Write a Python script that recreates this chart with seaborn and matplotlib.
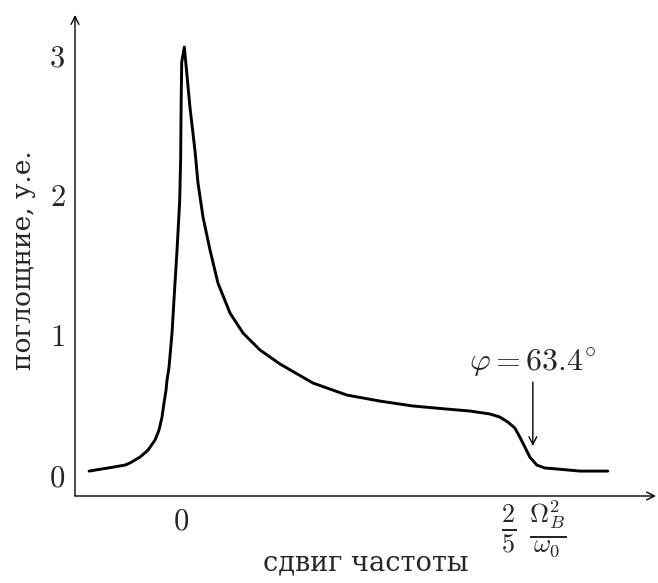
import numpy as np
import pandas as pd
import matplotlib
matplotlib.use("Agg")
import matplotlib.pyplot as plt
import seaborn as sns

# data (x in units of Omega_B^2/omega_0, y in arbitrary units)
shift = [-0.1045, -0.0830, -0.0636, -0.0580, -0.0466, -0.0375, -0.0295, -0.0250,
         -0.0216, -0.0193, -0.0170, -0.0159, -0.0136, -0.0102, -0.0080, -0.0045,
         -0.0015, -0.0004, 0.0002, 0.0008, 0.0038,
         0.0102, 0.0159, 0.0193, 0.0250, 0.0330, 0.0420, 0.0557, 0.0705, 0.0898,
         0.1125, 0.1500, 0.1886, 0.2261, 0.2636, 0.3023, 0.3284, 0.3511,
         0.3625, 0.3716, 0.3795, 0.3852, 0.3909, 0.3966, 0.4045, 0.4136, 0.4273,
         0.4534, 0.4852]
absorb = [0.021, 0.043, 0.064, 0.079, 0.121, 0.171, 0.243, 0.314,
          0.407, 0.507, 0.600, 0.671, 0.764, 1.007, 1.243, 1.600,
          1.950, 2.250, 2.670, 2.940, 3.050,
          2.620, 2.310, 2.080, 1.836, 1.600, 1.364, 1.150, 1.007, 0.886,
          0.786, 0.650, 0.564, 0.521, 0.486, 0.464, 0.450, 0.429,
          0.407, 0.371, 0.329, 0.264, 0.193, 0.121, 0.064, 0.043, 0.036,
          0.021, 0.021]
xtick_pos = [0.0, 0.4, 0.509]
xtick_labels = ["$0$", "", ""]
frac_labels = [r"$\frac{2}{5}$", r"$\frac{\Omega_B^2}{\omega_0}$"]
frac_x = [0.3727, 0.4170]
ytick_pos = [0, 1, 2, 3]
ytick_labels = ["$0$", "$1$", "$2$", "$3$"]
angle_label = r"$\varphi = 63.4^{\circ}$"
angle_x = 0.4

df = pd.DataFrame({"shift": shift, "absorb": absorb})

sns.set_theme(style="white")
plt.rcParams["mathtext.fontset"] = "cm"
plt.rcParams["font.family"] = ["DejaVu Serif"]

fig = plt.figure(figsize=(6.58, 5.83), dpi=100)
ax = fig.add_axes([75/658, 1-496/583, 581/658, 481/583])

sns.lineplot(data=df, x="shift", y="absorb", ax=ax, color="black", lw=2.1,
             sort=False, estimator=None)
for ln in ax.lines:
    ln.set_solid_joinstyle("round")
    ln.set_solid_capstyle("round")

ax.set_xlim(-0.1205, 0.540)
ax.set_ylim(-0.157, 3.279)

for s in ax.spines.values():
    s.set_visible(False)
# axis lines with arrow heads
ax.annotate("", xy=(0, 1), xytext=(0, 0), xycoords="axes fraction",
            arrowprops=dict(arrowstyle="->", lw=1.0, color="black",
                            shrinkA=0, shrinkB=0, mutation_scale=14))
ax.annotate("", xy=(1, 0), xytext=(0, 0), xycoords="axes fraction",
            arrowprops=dict(arrowstyle="->", lw=1.0, color="black",
                            shrinkA=0, shrinkB=0, mutation_scale=14))

ax.set_xticks(xtick_pos)
ax.set_xticklabels(xtick_labels, fontsize=22)
ax.set_yticks(ytick_pos)
ax.set_yticklabels(ytick_labels, fontsize=22)
ax.tick_params(direction="in", length=6, width=1.0, color="black")
ax.tick_params(axis="x", pad=7)
ax.tick_params(axis="y", pad=7)

trans = ax.get_xaxis_transform()
for lbl, fx in zip(frac_labels, frac_x):
    ax.text(fx, -0.07, lbl, transform=trans, ha="center", va="center",
            fontsize=27)

ax.set_xlabel("")
ax.set_ylabel("")
ax.text(0.5, -0.139, "сдвиг частоты", transform=ax.transAxes,
        ha="center", va="center", fontsize=19.5)
ax.text(-0.088, 0.491, "поглощние, у.е.", transform=ax.transAxes,
        ha="center", va="center", rotation=90, fontsize=19)

ax.text(angle_x, 0.793, angle_label, ha="center", va="center", fontsize=23)
ax.annotate("", xy=(angle_x, 0.20), xytext=(angle_x, 0.657),
            arrowprops=dict(arrowstyle="->", lw=1.0, color="black",
                            shrinkA=0, shrinkB=0, mutation_scale=14))

fig.savefig("out.png", dpi=100)
